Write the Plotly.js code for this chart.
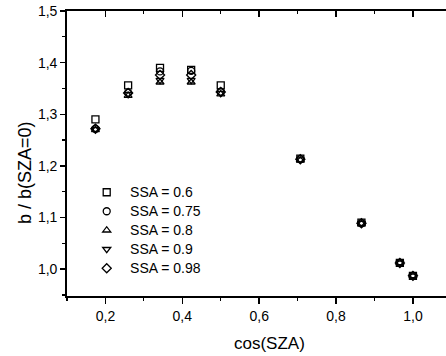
<!DOCTYPE html>
<html>
<head>
<meta charset="utf-8">
<script src="https://cdn.plot.ly/plotly-3.0.1.min.js"></script>
<style>
html,body{margin:0;padding:0;background:#fff;overflow:hidden;}
#chart{width:446px;height:356px;}
</style>
</head>
<body>
<div id="chart"></div>
<script>
// cos(SZA) values
const cosSZA = [0.174, 0.259, 0.342, 0.423, 0.500, 0.707, 0.866, 0.966, 1.000];
// b / b(SZA=0) per single-scattering albedo
const ssa060 = [1.290, 1.356, 1.390, 1.386, 1.356, 1.214, 1.090, 1.012, 0.987];
const ssa075 = [1.272, 1.342, 1.383, 1.384, 1.344, 1.213, 1.089, 1.012, 0.987];
const ssa080 = [1.270, 1.336, 1.362, 1.362, 1.339, 1.211, 1.088, 1.012, 0.987];
const ssa090 = [1.271, 1.339, 1.366, 1.366, 1.341, 1.212, 1.089, 1.012, 0.987];
const ssa098 = [1.272, 1.341, 1.376, 1.376, 1.343, 1.213, 1.089, 1.012, 0.987];
const seriesNames = ['SSA = 0.6', 'SSA = 0.75', 'SSA = 0.8', 'SSA = 0.9', 'SSA = 0.98'];
const symbols = ['square-open', 'circle-open', 'triangle-up-open', 'triangle-down-open', 'diamond-open'];
const allSeries = [ssa060, ssa075, ssa080, ssa090, ssa098];
const xTitle = 'cos(SZA)';
const yTitle = 'b / b(SZA=0)';

const traces = allSeries.map((ys, i) => ({
  x: cosSZA, y: ys, type: 'scatter', mode: 'markers',
  name: '&nbsp;<span style="font-size:14px">' + seriesNames[i] + '</span>',
  marker: {symbol: symbols[i], size: 7, color: '#000', line: {color: '#000', width: 1.3}}
}));
// helper trace to display the top axis
traces.push({x: [0.5], y: [1.2], xaxis: 'x2', mode: 'markers', marker: {opacity: 0}, showlegend: false, hoverinfo: 'skip'});

const font = {family: '"Liberation Sans", Arial, sans-serif', color: '#000'};
const layout = {
  width: 446, height: 356,
  margin: {l: 67, r: 0, t: 11, b: 60},
  paper_bgcolor: '#fff', plot_bgcolor: '#fff',
  separators: ', ',
  font: Object.assign({size: 14}, font),
  showlegend: true,
  legend: {x: 0.052, y: 0.415, xanchor: 'left', yanchor: 'top', bgcolor: 'rgba(0,0,0,0)',
           font: Object.assign({size: 12}, font), tracegroupgap: 0, itemwidth: 30},
  xaxis: {
    range: [0.1, 1.086], dtick: 0.2, tick0: 0, tickformat: '.1f',
    showgrid: false, zeroline: false, showline: true, linecolor: '#000', linewidth: 1.8,
    ticks: 'outside', ticklen: 6, tickwidth: 1.5, tickcolor: '#000',
    minor: {dtick: 0.1, ticks: 'outside', ticklen: 3, tickwidth: 1.2, tickcolor: '#000'},
    tickfont: Object.assign({size: 14}, font)
  },
  xaxis2: {
    overlaying: 'x', side: 'top', matches: 'x', range: [0.1, 1.086], dtick: 0.2, tick0: 0,
    showgrid: false, zeroline: false, showline: true, linecolor: '#000', linewidth: 1.8,
    ticks: 'inside', ticklen: 6, tickwidth: 1.5, tickcolor: '#000', showticklabels: false,
    minor: {dtick: 0.1, ticks: 'inside', ticklen: 3, tickwidth: 1.2, tickcolor: '#000'}
  },
  yaxis: {
    range: [0.948, 1.5], dtick: 0.1, tick0: 0, tickformat: '.1f',
    showgrid: false, zeroline: false, showline: true, linecolor: '#000', linewidth: 1.8,
    ticks: 'outside', ticklen: 5, tickwidth: 1.5, tickcolor: '#000',
    minor: {dtick: 0.05, ticks: 'outside', ticklen: 3, tickwidth: 1.2, tickcolor: '#000'},
    tickfont: Object.assign({size: 14}, font)
  },
  annotations: [
    {text: xTitle, xref: 'paper', yref: 'paper', x: 0.5356, y: -0.165, xanchor: 'center', yanchor: 'middle',
     showarrow: false, font: Object.assign({size: 17}, font)},
    {text: yTitle, xref: 'paper', yref: 'paper', x: -0.111, y: 0.435, xanchor: 'center', yanchor: 'middle',
     textangle: -90, showarrow: false, font: Object.assign({size: 18}, font)}
  ]
};
Plotly.newPlot('chart', traces, layout, {displayModeBar: false, staticPlot: true});
</script>
</body>
</html>
